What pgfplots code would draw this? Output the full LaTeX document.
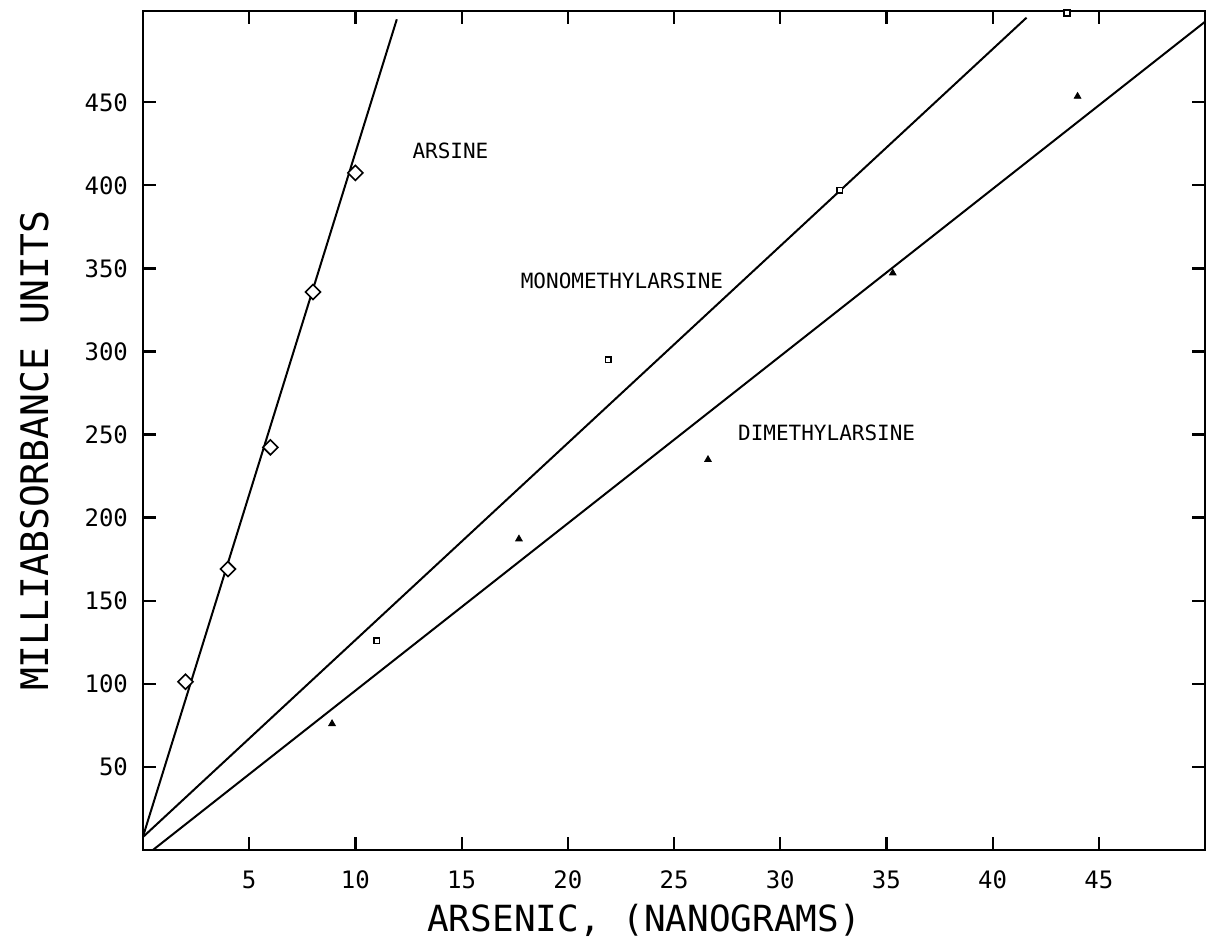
\documentclass[border=0pt]{standalone}
\usepackage{fontspec}
\setmainfont{DejaVu Sans Mono}
\usepackage{pgfplots}
\pgfplotsset{compat=1.18}
\begin{document}
\begin{tikzpicture}
\begin{axis}[
  scale only axis, width=531pt, height=419.4pt,
  xmin=0, xmax=50, ymin=0, ymax=505,
  xtick={5,10,...,45}, ytick={50,100,...,450},
  tick align=inside, major tick length=6.5pt,
  axis line style={line width=1.2pt},
  every tick/.style={line width=1.1pt, black},
  /pgf/number format/assume math mode=true,
  ticklabel style={font=\fontsize{12}{12}\selectfont},
  xticklabel style={yshift=-7pt},
  yticklabel style={xshift=-4pt},
  xlabel={ARSENIC, (NANOGRAMS)},
  ylabel={MILLIABSORBANCE UNITS},
  xlabel style={font=\fontsize{18}{18}\selectfont, at={(axis description cs:0.4718,-0.0846)}, anchor=center},
  ylabel style={font=\fontsize{19}{19}\selectfont, at={(axis description cs:-0.1017,0.4757)}, anchor=center},
]
% fitted lines
\addplot[black, line width=1pt] coordinates {(0,8) (11.95,500)};
\addplot[black, line width=1pt] coordinates {(0,7.7) (41.6,501)};
\addplot[black, line width=1pt] coordinates {(0.48,0) (50,498.5)};
% Arsine
\addplot[only marks, mark=square*, mark size=2.65pt, mark options={rotate=45, line width=0.8pt, draw=black, fill=white}] coordinates {
(2,101.2) (4,169) (6,242.3) (8,335.8) (10,407.5)};
% Monomethylarsine
\addplot[only marks, mark=square*, mark size=1.4pt, mark options={line width=0.8pt, draw=black, fill=white}] coordinates {
(11.0,125.9) (21.9,295) (32.8,397) (43.5,503.8)};
% Dimethylarsine
\addplot[only marks, mark=triangle*, mark size=1.9pt, mark options={draw=black, fill=black}] coordinates {
(8.9,75.9) (17.7,187.1) (26.6,234.9) (35.3,347.2) (44.0,453.6)};
\node[anchor=west, inner sep=0pt, font=\fontsize{10.5}{10.5}\selectfont] at (axis cs:12.67,420.8) {ARSINE};
\node[anchor=west, inner sep=0pt, font=\fontsize{10.5}{10.5}\selectfont] at (axis cs:17.77,342.6) {MONOMETHYLARSINE};
\node[anchor=west, inner sep=0pt, font=\fontsize{10.5}{10.5}\selectfont] at (axis cs:28.0,251) {DIMETHYLARSINE};
\end{axis}
\pgfresetboundingbox
\path ([xshift=-71.5pt,yshift=-44.5pt]current axis.south west) rectangle ([xshift=0.5pt,yshift=5.5pt]current axis.north east);
\end{tikzpicture}
\end{document}
